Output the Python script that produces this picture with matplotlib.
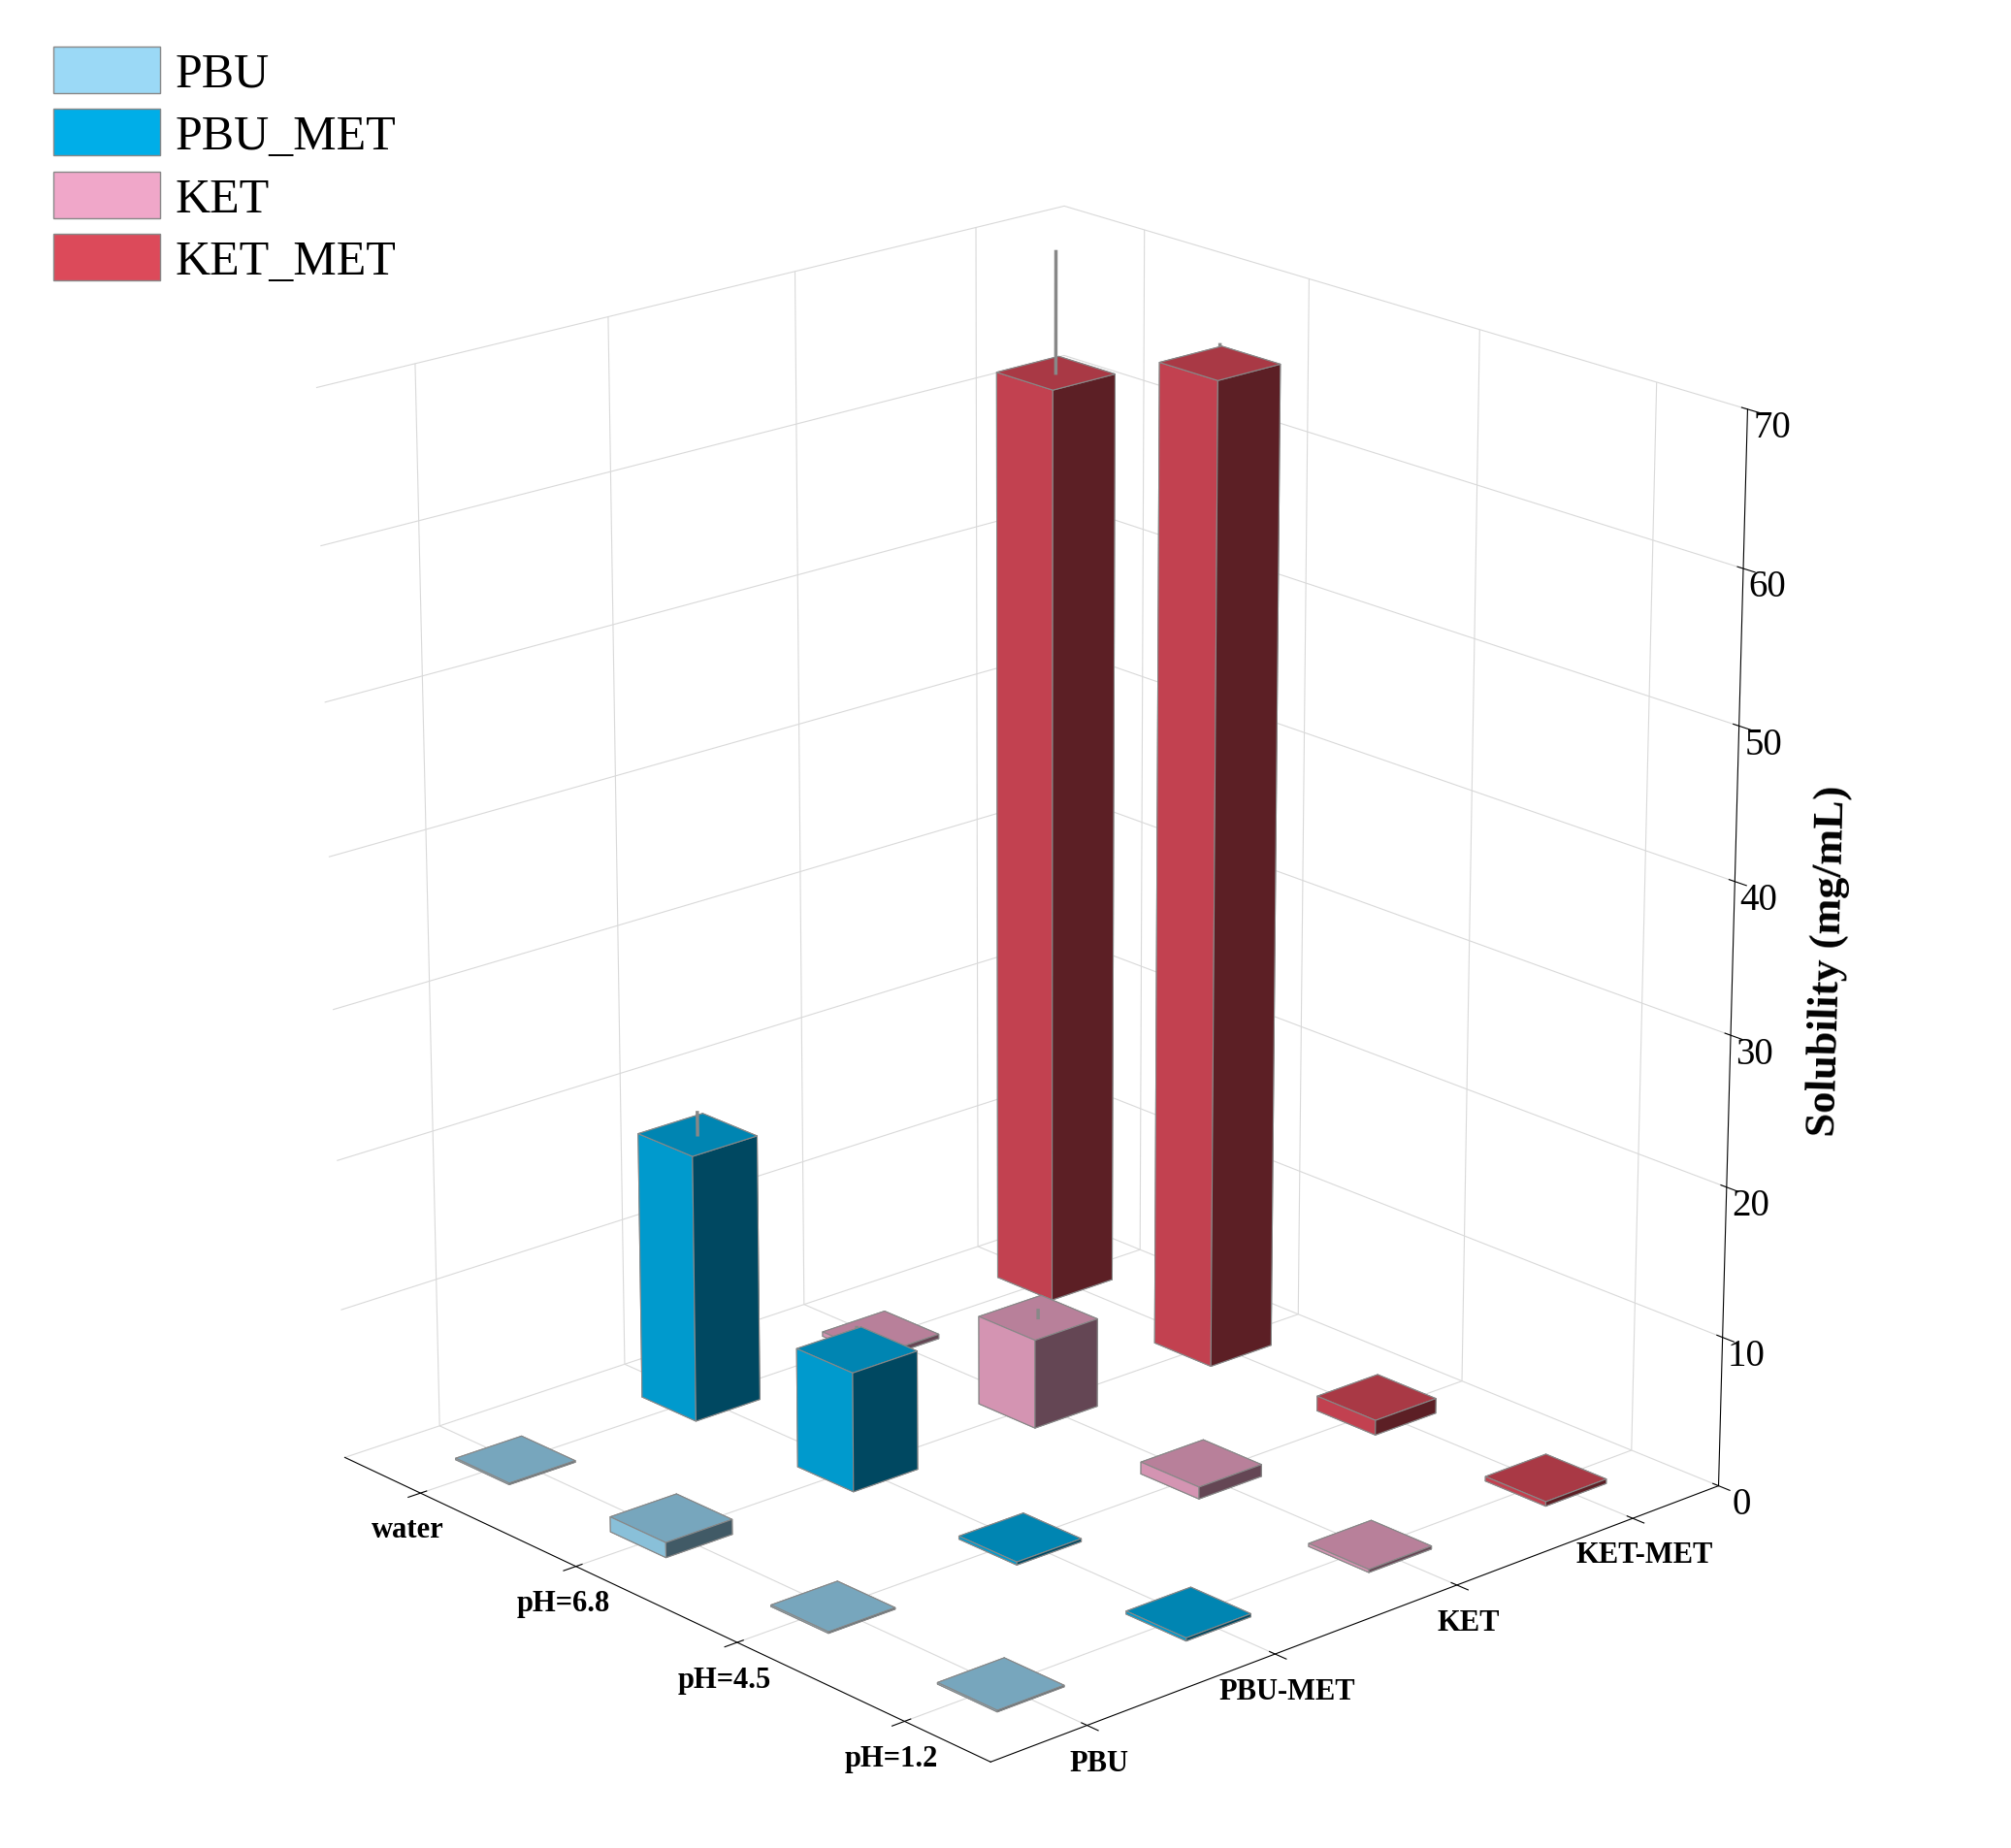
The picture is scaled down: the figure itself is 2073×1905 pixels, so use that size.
import numpy as np
import matplotlib.pyplot as plt
from matplotlib.patches import Patch

plt.rcParams['font.family'] = ['Liberation Serif', 'DejaVu Serif']

conditions = ["water", "pH=6.8", "pH=4.5", "pH=1.2"]
drugs = ["PBU", "PBU-MET", "KET", "KET-MET"]
legend_names = ["PBU", "PBU_MET", "KET", "KET_MET"]
colors = ["#9bd9f6", "#00aee8", "#f0a7c9", "#dc4a5a"]

# solubility (mg/mL), rows = drug, cols = condition
sol_pbu = [0.1, 1.0, 0.1, 0.1]
sol_pbu_met = [18.0, 8.0, 0.2, 0.2]
sol_ket = [0.3, 6.0, 0.8, 0.2]
sol_ket_met = [62.0, 66.0, 1.0, 0.3]
err_pbu_met = [1.5, 1.5, 0, 0]
err_ket = [0, 0.5, 0, 0]
err_ket_met = [8.0, 1.2, 0, 0]
err_pbu = [0, 0, 0, 0]

values = [sol_pbu, sol_pbu_met, sol_ket, sol_ket_met]
errors = [err_pbu, err_pbu_met, err_ket, err_ket_met]

fig = plt.figure(figsize=(20.73, 19.06), dpi=100)
ax = fig.add_axes([0.0, 0.0, 1.0, 0.95], projection='3d')
ax.view_init(elev=20, azim=-42)
ax.set_box_aspect((1, 1, 1.15))

w = 0.35
for j, (vals, errs) in enumerate(zip(values, errors)):
    for i, v in enumerate(vals):
        ax.bar3d(i - w / 2, j - w / 2, 0, w, w, v, color=colors[j],
                 edgecolor='#888888', linewidth=0.8, shade=True)
        if errs[i] > 0:
            ax.plot([i, i], [j, j], [v, v + errs[i]], color='#888888', lw=2.5, zorder=10)

ax.set_xticks(range(4))
ax.set_xticklabels(conditions, fontsize=22, fontweight='bold')
ax.set_yticks(range(4))
ax.set_yticklabels(drugs, fontsize=22, fontweight='bold')
ax.set_zlim(0, 70)
ax.set_zticks(range(0, 71, 10))
ax.tick_params(axis='z', labelsize=28)
ax.set_xlim(-0.5, 3.5)
ax.set_ylim(-0.5, 3.5)
ax.zaxis.set_ticks_position('upper')
ax.zaxis.set_label_position('upper')
ax.set_zlabel("Solubility (mg/mL)", fontsize=32, fontweight='bold', labelpad=25)
for a in (ax.xaxis, ax.yaxis, ax.zaxis):
    a.set_pane_color((1, 1, 1, 0))
    a._axinfo['grid']['color'] = (0.85, 0.85, 0.85, 1)

handles = [Patch(facecolor=c, edgecolor='#888888') for c in colors]
fig.legend(handles, legend_names, loc='upper left', bbox_to_anchor=(0.005, 0.998),
           fontsize=36, frameon=False, handlelength=2.2, handleheight=1.1,
           labelspacing=0.25, handletextpad=0.3)

fig.savefig("out.png", dpi=100)
